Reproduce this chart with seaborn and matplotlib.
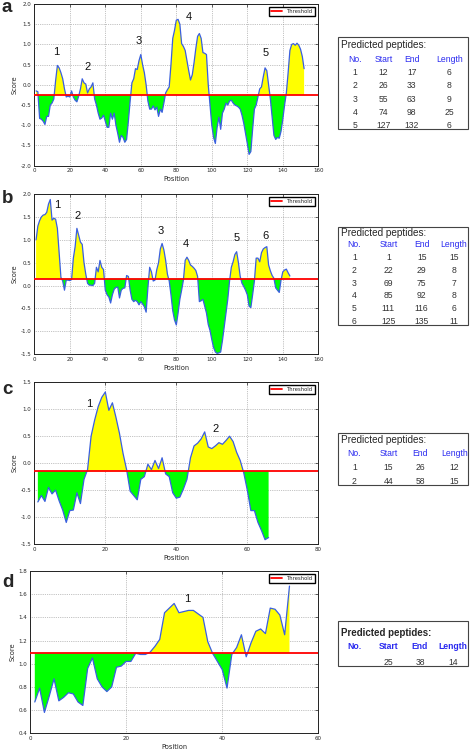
import numpy as np
import matplotlib
matplotlib.use('Agg')
import matplotlib.pyplot as plt
from matplotlib.patches import Rectangle
import seaborn as sns

# ─── DATA ─────────────────────────────────────────────────────────────────────
score_a = [
    -0.15, -0.17, -0.83, -0.85, -0.90, -0.98, -0.78, -0.78, -0.50, -0.45,
    -0.35, 0.10, 0.48, 0.42, 0.30, 0.15, -0.10, -0.30, -0.28, -0.30,
    -0.15, -0.30, -0.38, -0.42, -0.28, -0.10, 0.15, 0.05, 0.02, -0.20,
    -0.10, -0.05, 0.05, -0.35, -0.50, -0.70, -0.85, -0.82, -0.75, -0.90,
    -1.05, -1.05, -0.70, -0.85, -0.70, -1.00, -1.20, -1.42, -1.25, -1.30,
    -1.42, -1.35, -0.90, -0.40, 0.05, 0.15, 0.40, 0.38, 0.60, 0.75,
    0.50, 0.30, 0.00, -0.40, -0.60, -0.60, -0.52, -0.62, -0.55, -0.78,
    -0.60, -0.68, -0.45, -0.20, -0.12, -0.05, 0.50, 1.15, 1.35, 1.60,
    1.62, 1.50, 1.02, 0.95, 0.85, 0.60, 0.35, 0.12, 0.25, 0.55,
    0.90, 1.20, 1.27, 1.15, 0.80, 0.78, 0.75, 0.00, -0.50, -1.00,
    -1.30, -1.45, -1.05, -0.80, -1.10, -0.70, -0.60, -0.45, -0.50, -0.40,
    -0.38, -0.45, -0.50, -0.52, -0.55, -0.60, -0.75, -0.95, -1.20, -1.45,
    -1.72, -1.65, -1.10, -0.60, -0.50, -0.30, -0.10, -0.05, 0.20, 0.42,
    0.35, 0.00, -0.35, -0.80, -1.25, -1.35, -1.30, -1.32, -1.15, -0.85,
    -0.50, -0.20, 0.30, 0.85, 1.00, 1.02, 0.98, 1.03, 0.98, 0.88,
    0.70, 0.40,
]
score_b = [
    1.00, 1.30, 1.42, 1.50, 1.54, 1.55, 1.60, 1.78, 1.88, 1.43,
    1.47, 1.45, 1.25, 0.70, 0.18, 0.10, -0.10, 0.12, 0.12, 0.11,
    0.13, 0.60, 0.85, 1.25, 1.10, 0.95, 0.90, 0.50, 0.25, 0.05,
    0.01, 0.01, 0.00, 0.05, 0.40, 0.30, 0.55, 0.40, 0.35, -0.10,
    -0.20, -0.25, -0.38, -0.20, -0.08, -0.04, -0.03, -0.27, -0.10, -0.06,
    -0.05, 0.22, 0.20, -0.10, -0.30, -0.35, -0.32, -0.35, -0.42, -0.35,
    -0.40, -0.46, -0.58, -0.05, 0.40, 0.30, 0.10, 0.12, 0.35, 0.50,
    0.80, 0.92, 0.78, 0.55, 0.25, 0.10, -0.20, -0.55, -0.75, -0.86,
    -0.60, -0.30, -0.10, 0.12, 0.55, 0.62, 0.55, 0.45, 0.42, 0.38,
    0.33, 0.20, -0.35, -0.33, -0.30, -0.45, -0.60, -0.85, -0.98, -1.18,
    -1.35, -1.45, -1.48, -1.47, -1.45, -1.20, -0.90, -0.60, -0.30, 0.10,
    0.40, 0.52, 0.68, 0.74, 0.50, 0.20, 0.05, -0.02, -0.10, -0.20,
    -0.45, -0.48, -0.20, 0.10, 0.60, 0.60, 0.52, 0.72, 0.80, 0.83,
    0.85, 0.45, 0.32, 0.22, 0.16, -0.05, -0.10, -0.15, 0.12, 0.30,
    0.34, 0.36, 0.28, 0.21,
]
score_c = [
    -0.72, -0.60, -0.71, -0.45, -0.57, -0.50, -0.70, -0.87, -1.10, -0.88,
    -0.87, -0.55, -0.75, -0.30, -0.12, 0.50, 0.80, 1.05, 1.22, 1.32,
    0.98, 1.12, 0.85, 0.55, 0.18, -0.12, -0.52, -0.60, -0.68, -0.30,
    -0.25, -0.02, -0.12, 0.05, -0.10, 0.10, -0.20, -0.25, -0.55, -0.65,
    -0.63, -0.48, -0.30, 0.10, 0.32, 0.37, 0.45, 0.58, 0.30, 0.27,
    0.32, 0.38, 0.35, 0.42, 0.50, 0.40, 0.20, 0.05, -0.18, -0.50,
    -0.88, -0.88, -1.10, -1.25, -1.42, -1.38,
]
score_d = [
    0.67, 0.79, 0.58, 0.72, 0.87, 0.68, 0.71, 0.75, 0.74, 0.67,
    0.64, 0.96, 1.05, 0.87, 0.80, 0.76, 0.80, 0.97, 0.98, 1.02,
    1.02, 1.09, 1.08, 1.08, 1.10, 1.15, 1.21, 1.44, 1.48, 1.52,
    1.44, 1.45, 1.46, 1.46, 1.43, 1.40, 1.19, 1.09, 1.02, 0.95,
    0.79, 1.08, 1.14, 1.25, 1.06, 1.18, 1.28, 1.30, 1.26, 1.48,
    1.47, 1.42, 1.25, 1.67,
]

thresholds = {'a': -0.25, 'b': 0.15, 'c': -0.15, 'd': 1.09}

# peptide number labels (x, y) in data coords
label_pos_a = [(12.2, 0.82), (30, 0.45), (59, 1.08), (87.3, 1.68), (130.3, 0.78)]
label_pos_b = [(13, 1.76), (24.6, 1.52), (71, 1.19), (85.3, 0.91), (114, 1.03), (130.1, 1.08)]
label_pos_c = [(15.4, 1.09), (51.2, 0.63)]
label_pos_d = [(32.8, 1.56)]

# predicted peptides tables
pep_a = [('1', '12', '17', '6'), ('2', '26', '33', '8'), ('3', '55', '63', '9'),
         ('4', '74', '98', '25'), ('5', '127', '132', '6')]
pep_b = [('1', '1', '15', '15'), ('2', '22', '29', '8'), ('3', '69', '75', '7'),
         ('4', '85', '92', '8'), ('5', '111', '116', '6'), ('6', '125', '135', '11')]
pep_c = [('1', '15', '26', '12'), ('2', '44', '58', '15')]
pep_d = [('', '25', '38', '14')]
headers = ['No.', 'Start', 'End', 'Length']

# ─── STYLE ────────────────────────────────────────────────────────────────────
sns.set_style("white")
plt.rcParams['font.family'] = ['DejaVu Sans']
plt.rcParams['axes.unicode_minus'] = False

W, H = 472, 751
fig = plt.figure(figsize=(W / 100, H / 100), dpi=100)


def px_ax(left, top, right, bottom):
    return fig.add_axes([left / W, 1 - bottom / H, (right - left) / W, (bottom - top) / H])


def draw_panel(ax, score, thr, xmax, ylim, yticks, labels):
    pos = np.arange(1, len(score) + 1)
    y = np.array(score)
    ax.fill_between(pos, y, thr, where=y >= thr, interpolate=True,
                    color='#ffff00', lw=0, zorder=1)
    ax.fill_between(pos, y, thr, where=y <= thr, interpolate=True,
                    color='#00ff00', lw=0, zorder=1)
    sns.lineplot(x=pos, y=y, ax=ax, color='#3a5fe0', lw=0.9, zorder=3)
    ax.axhline(thr, color='red', lw=1.3, label='Threshold', zorder=4)
    ax.set_xlim(0, xmax)
    ax.set_ylim(*ylim)
    ax.set_xticks(np.arange(0, xmax + 1, 20))
    ax.set_yticks(yticks)
    ax.grid(True, ls=':', color='#8a8a8a', lw=0.5)
    ax.tick_params(direction='in', length=2.5, width=0.5, labelsize=4,
                   top=True, right=True, pad=2)
    for sp in ax.spines.values():
        sp.set_color('#222222')
        sp.set_linewidth(0.7)
    ax.set_xlabel('Position', fontsize=4.8, labelpad=2)
    ax.set_ylabel('Score', fontsize=4.8, labelpad=2)
    ax.legend(loc='upper right', fontsize=3.8, handlelength=2.1, handletextpad=0.9,
              borderpad=0.4, borderaxespad=0.55, fancybox=False, framealpha=1,
              edgecolor='black')
    for i, (lx, ly) in enumerate(labels):
        ax.text(lx, ly, str(i + 1), fontsize=8, ha='center', va='center',
                family='Liberation Sans', color='#111111', zorder=5)


def draw_table(box, title_y, header_y, row_ys, cols, rows, bold=False):
    l, t, r, b = box
    fig.add_artist(Rectangle((l / W, 1 - b / H), (r - l) / W, (b - t) / H,
                             transform=fig.transFigure, facecolor='white',
                             edgecolor='#444444', lw=0.8, zorder=5))
    fw = 'bold' if bold else 'normal'
    fig.text(340.7 / W, 1 - title_y / H, 'Predicted peptides:',
             fontsize=7.2 if not bold else 7.0,
             family='Liberation Sans', weight=fw, va='center', ha='left', zorder=6)
    for cx, h in zip(cols, headers):
        fig.text(cx / W, 1 - header_y / H, h, fontsize=6.2, color='#2a2af0',
                 family='Liberation Sans', weight=fw, va='center', ha='center', zorder=6)
    for ry, row in zip(row_ys, rows):
        for cx, v in zip(cols, row):
            fig.text(cx / W, 1 - ry / H, v, fontsize=6.2, color='#333333',
                     family='Liberation Sans', va='center', ha='center', zorder=6)


ax_a = px_ax(34.3, 4, 318.3, 165.7)
draw_panel(ax_a, score_a, thresholds['a'], 160, (-2.0, 2.0),
           np.arange(-2.0, 2.01, 0.5), label_pos_a)
ax_b = px_ax(34.3, 194, 318.3, 354.3)
draw_panel(ax_b, score_b, thresholds['b'], 160, (-1.5, 2.0),
           np.arange(-1.5, 2.01, 0.5), label_pos_b)
ax_c = px_ax(34.3, 382.3, 318.3, 544)
draw_panel(ax_c, score_c, thresholds['c'], 80, (-1.5, 1.5),
           np.arange(-1.5, 1.51, 0.5), label_pos_c)
ax_d = px_ax(30, 571, 318.3, 733.3)
draw_panel(ax_d, score_d, thresholds['d'], 60, (0.4, 1.8),
           np.arange(0.4, 1.81, 0.2), label_pos_d)

# panel letters
for letter, base in zip('abcd', [12, 203, 394, 587]):
    fig.text(2 / W, 1 - base / H, letter, fontsize=13.5, weight='bold',
             family='Liberation Sans', va='baseline', ha='left')

# tables
draw_table((338, 36.7, 468, 129), 45, 59.3, [72.3, 85.7, 99, 112.3, 125.7],
           [355, 383.3, 411.7, 449.3], pep_a)
draw_table((338, 227, 468, 325), 232.7, 244.3, [257.3, 270.7, 283.3, 296, 308.3, 321],
           [354.3, 388.3, 421.7, 454], pep_b)
draw_table((338, 433, 468, 485), 440, 454, [467.3, 481],
           [354.3, 388.3, 420, 454.3], pep_c)
draw_table((338, 621, 468, 665.7), 633.3, 646.7, [662.3],
           [355, 388.3, 420, 453.3], pep_d, bold=True)

plt.savefig('out.png', dpi=100)
